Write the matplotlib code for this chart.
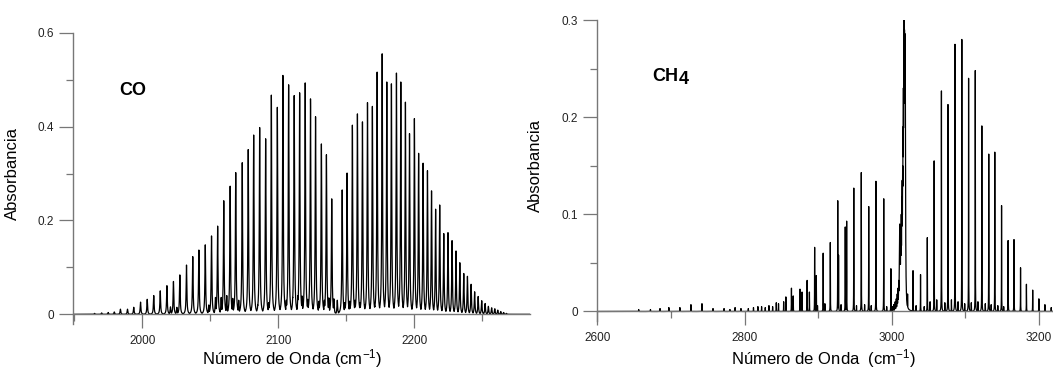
import numpy as np
import matplotlib
matplotlib.use("Agg")
import matplotlib.pyplot as plt

plt.rcParams['font.family'] = ['Liberation Sans', 'DejaVu Sans']
plt.rcParams['mathtext.fontset'] = 'custom'
plt.rcParams['mathtext.rm'] = 'Liberation Sans'
plt.rcParams['mathtext.it'] = 'Liberation Sans:italic'

# CO: P and R branch lines (cm-1, absorbance)
co_wn = [1965.0, 1970.2, 1975.0, 1979.5, 1984.0, 1989.2, 1993.8, 1998.8,
         2003.7, 2008.5, 2013.3, 2018.2, 2023.0, 2027.7, 2032.6, 2037.2,
         2041.7, 2046.4, 2051.0, 2055.5, 2060.0, 2064.7, 2068.8, 2073.6,
         2078.0, 2082.0, 2086.4, 2090.8, 2095.0, 2099.4, 2103.5, 2107.7,
         2111.8, 2115.8, 2119.9, 2123.8, 2127.5, 2131.8, 2135.5, 2139.4,
         2147.1, 2150.7, 2154.6, 2158.3, 2162.0, 2165.7, 2169.3, 2172.8,
         2176.5, 2179.9, 2183.3, 2187.0, 2190.2, 2193.6, 2196.6, 2200.2,
         2203.3, 2206.6, 2209.8, 2212.8, 2215.8, 2218.8, 2221.8, 2224.9,
         2227.9, 2230.8, 2233.6, 2236.5, 2239.2, 2241.9, 2244.5, 2247.1,
         2249.7, 2252.2, 2254.6, 2257.0, 2259.3, 2261.5, 2263.7, 2265.8,
         2267.9]
co_abs = [0.002, 0.003, 0.004, 0.005, 0.011, 0.011, 0.015, 0.026,
          0.032, 0.040, 0.050, 0.061, 0.070, 0.084, 0.105, 0.123,
          0.137, 0.148, 0.167, 0.188, 0.242, 0.273, 0.302, 0.323,
          0.351, 0.382, 0.398, 0.374, 0.467, 0.441, 0.509, 0.489,
          0.466, 0.472, 0.493, 0.459, 0.421, 0.363, 0.340, 0.246,
          0.265, 0.301, 0.403, 0.427, 0.410, 0.451, 0.443, 0.516,
          0.555, 0.495, 0.491, 0.514, 0.495, 0.452, 0.385, 0.417,
          0.343, 0.322, 0.306, 0.263, 0.224, 0.233, 0.172, 0.174,
          0.157, 0.135, 0.110, 0.087, 0.081, 0.064, 0.048, 0.038,
          0.029, 0.023, 0.017, 0.014, 0.012, 0.009, 0.006, 0.004,
          0.002]

# CO weak lines near the baseline
co_weak_wn = [2020.8, 2025.5, 2032.4, 2049.0, 2053.9, 2058.1, 2062.2, 2066.6,
              2071.0, 2085.0, 2093.0, 2106.0, 2110.7, 2114.5, 2117.6, 2121.8,
              2130.0, 2134.0, 2137.3, 2141.0, 2143.5, 2149.0, 2152.6, 2156.5,
              2160.2, 2164.0, 2171.0, 2178.0, 2186.0, 2192.0, 2198.5]
co_weak_abs = [0.016, 0.015, 0.018, 0.020, 0.036, 0.036, 0.040, 0.034,
               0.030, 0.020, 0.025, 0.030, 0.036, 0.040, 0.039, 0.032,
               0.028, 0.030, 0.035, 0.033, 0.030, 0.025, 0.028, 0.030,
               0.025, 0.020, 0.018, 0.015, 0.012, 0.012, 0.010]

# CH4: P and R branch lines
ch4_wn = [2853.0, 2856.0, 2863.6, 2866.0, 2875.2, 2878.0, 2884.9, 2888.0,
          2895.1, 2897.4, 2906.7, 2916.4, 2926.5, 2927.6, 2936.7, 2938.6,
          2948.3, 2958.5, 2968.6, 2978.4, 2989.0, 2998.7, 3021.4, 3028.8,
          3039.0, 3048.2, 3057.5, 3067.4, 3076.3, 3085.8, 3095.1, 3104.3,
          3113.4, 3122.3, 3131.7, 3139.9, 3149.1, 3158.0, 3166.0, 3174.9,
          3182.9, 3191.4, 3199.8, 3208.0, 3216.6]
ch4_abs = [0.010, 0.015, 0.024, 0.016, 0.023, 0.020, 0.032, 0.020,
           0.066, 0.037, 0.060, 0.071, 0.114, 0.058, 0.087, 0.093,
           0.127, 0.143, 0.108, 0.134, 0.116, 0.044, 0.018, 0.042,
           0.038, 0.076, 0.155, 0.227, 0.213, 0.275, 0.280, 0.240,
           0.248, 0.191, 0.162, 0.164, 0.109, 0.073, 0.074, 0.045,
           0.028, 0.022, 0.013, 0.007, 0.004]

# CH4: Q branch (unresolved lines)
q_wn = [3000.5, 3002.5, 3004.5, 3006.0, 3007.3, 3008.4, 3009.4, 3010.2,
        3010.7, 3011.4, 3012.1, 3012.8, 3013.5, 3014.1, 3014.7, 3015.2,
        3015.7, 3016.2, 3016.7, 3017.2, 3017.7, 3018.2]
q_abs = [0.005, 0.007, 0.010, 0.013, 0.018, 0.024, 0.032, 0.045,
         0.090, 0.070, 0.085, 0.100, 0.118, 0.135, 0.150, 0.190,
         0.230, 0.265, 0.300, 0.290, 0.286, 0.270]

# CH4 weak lines
ch4_weak_wn = [2656, 2672, 2685, 2697, 2712, 2727, 2742, 2757, 2772, 2780,
               2787, 2795, 2805, 2812, 2818, 2823, 2828, 2833, 2838, 2843,
               2846, 2899, 2909, 2931, 2952, 2963, 2972, 2993, 3033, 3044,
               3052, 3061, 3072, 3081, 3090, 3099, 3108, 3117, 3127, 3135,
               3144, 3152]
ch4_weak_abs = [0.002, 0.002, 0.003, 0.004, 0.004, 0.007, 0.008, 0.003, 0.003, 0.002,
                0.004, 0.003, 0.003, 0.004, 0.005, 0.005, 0.004, 0.006, 0.005, 0.009,
                0.008, 0.006, 0.008, 0.007, 0.006, 0.007, 0.006, 0.005, 0.006, 0.005,
                0.010, 0.012, 0.009, 0.012, 0.010, 0.008, 0.009, 0.010, 0.008, 0.007,
                0.006, 0.005]


def line_envelope(grid, centers, heights, gamma, out=None):
    # upper envelope of Lorentzian line profiles
    if out is None:
        out = np.zeros_like(grid)
    for c, h in zip(centers, heights):
        out = np.maximum(out, h * gamma**2 / ((grid - c)**2 + gamma**2))
    return out


def style_axes(ax, xlim, ylim, xmajor, xminor, ymajor, yminor, ylabels):
    ax.set_xlim(*xlim)
    ax.set_ylim(*ylim)
    for s in ['top', 'right']:
        ax.spines[s].set_visible(False)
    ax.spines['bottom'].set_position(('data', 0))
    for s in ['left', 'bottom']:
        ax.spines[s].set_color('#777777')
        ax.spines[s].set_linewidth(1.0)
    ax.set_xticks(xmajor)
    ax.set_xticks(xminor, minor=True)
    ax.set_yticks(ymajor)
    ax.set_yticklabels(ylabels)
    ax.set_yticks(yminor, minor=True)
    ax.tick_params(which='major', length=10, width=0.9, color='#777777',
                   labelsize=8.5, labelcolor='#222222')
    ax.tick_params(which='minor', length=5, width=0.9, color='#777777')
    ax.tick_params(axis='x', which='major', pad=5)
    ax.tick_params(axis='y', which='major', pad=4)


fig = plt.figure(figsize=(10.53, 3.72), dpi=100)

# left panel: CO
ax1 = fig.add_axes([0.0698, 0.1298, 0.4335, 0.7823])
g1 = np.arange(1949.5, 2285.3, 0.02)
s1 = line_envelope(g1, co_wn, co_abs, 0.3)
s1 = line_envelope(g1, co_weak_wn, co_weak_abs, 0.3, s1)
ax1.plot(g1, s1, color='black', lw=0.9)
style_axes(ax1, (1949.5, 2285.2), (-0.02, 0.6),
           [2000, 2100, 2200], [1950, 2050, 2150, 2250],
           [0, 0.2, 0.4, 0.6], [0.1, 0.3, 0.5], ['0', '0.2', '0.4', '0.6'])
ax1.set_ylabel('Absorbancia', fontsize=12)
ax1.yaxis.set_label_coords(-0.118, 0.516)
ax1.set_xlabel('Número de Onda (cm$^{-1}$)', fontsize=12)
ax1.xaxis.set_label_coords(0.479, -0.121)
ax1.xaxis.label.set_va('center')
ax1.text(1983.3, 0.4676, 'CO', fontsize=13, fontweight='bold',
         ha='left', va='baseline')

# right panel: CH4
ax2 = fig.add_axes([0.5674, 0.1379, 0.4326, 0.8083])
g2 = np.arange(2600, 3219.5, 0.01)
s2 = line_envelope(g2, ch4_wn, ch4_abs, 0.12)
s2 = line_envelope(g2, q_wn, q_abs, 0.45, s2)
s2 = line_envelope(g2, ch4_weak_wn, ch4_weak_abs, 0.12, s2)
ax2.plot(g2, s2, color='black', lw=0.9)
style_axes(ax2, (2600, 3219), (-0.0095, 0.3),
           [2600, 2800, 3000, 3200], [2700, 2900, 3100],
           [0, 0.1, 0.2, 0.3], [0.05, 0.15, 0.25], ['0', '0.1', '0.2', '0.3'])
ax2.set_ylabel('Absorbancia', fontsize=12)
ax2.yaxis.set_label_coords(-0.119, 0.515)
ax2.set_xlabel('Número de Onda  (cm$^{-1}$)', fontsize=12)
ax2.xaxis.set_label_coords(0.495, -0.127)
ax2.xaxis.label.set_va('center')
ax2.text(2673.8, 0.2368, 'CH', fontsize=13, fontweight='bold',
         ha='left', va='baseline')
ax2.text(2709.8, 0.2342, '4', fontsize=13, fontweight='bold',
         ha='left', va='baseline')

fig.savefig('out.png', dpi=100)
